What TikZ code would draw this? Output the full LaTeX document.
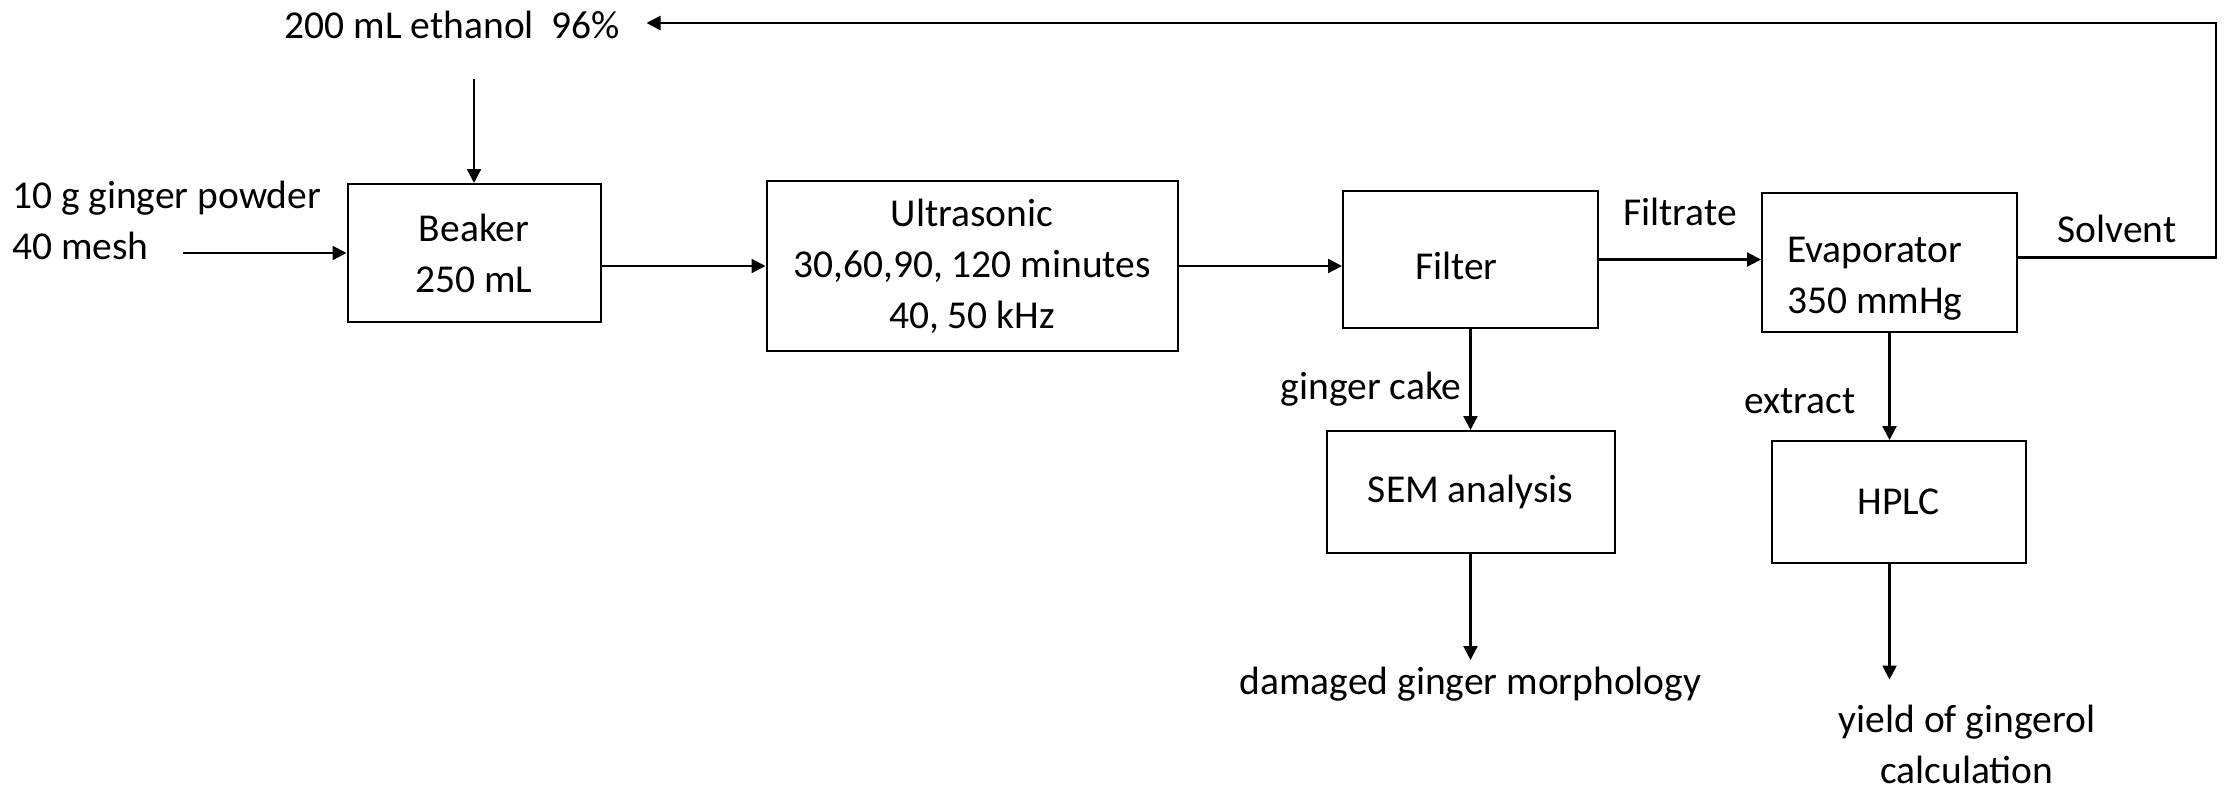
\documentclass[tikz,border=0pt]{standalone}
\usepackage{fontspec}
\setmainfont{Carlito}
\usetikzlibrary{positioning}
\usetikzlibrary{arrows.meta}

\tikzset{
  proc/.style={draw, line width=1pt, align=center, inner sep=0pt},
  txt/.style={align=center},
  lbl/.style={inner sep=2pt},
  flow/.style={line width=1.1pt, -{Triangle[length=7pt,width=7pt]}},
}

\begin{document}
\begin{tikzpicture}[x=0.5pt, y=-0.5pt, font=\fontsize{19.75pt}{25.5pt}\selectfont]
    \useasboundingbox (0,0) rectangle (2226,793);


    % main line of the process
    \node[proc, minimum width=126.5pt, minimum height=69pt] (beaker) at (474,253) {Beaker\\250 mL};
    \node[proc, minimum width=205.5pt, minimum height=85pt] (ultra) at (972,266) {Ultrasonic\\30,60,90, 120 minutes\\40, 50 kHz};
    \node[proc, align=flush left, inner xsep=36pt, text width=55.5pt, text height=44pt, text depth=24.5pt] (filter) at (1470.5,259.5) {Filter};
    \node[proc, align=flush left, inner xsep=12.5pt, text width=102.5pt, text height=34.5pt, text depth=35pt] (evap) at (1889.5,262.5) {Evaporator\\350 mmHg};


    % inputs
    \node[txt, inner xsep=13pt] (ethanol) at (452.5,25) {200 mL ethanol\ \ 96\%};
    \coordinate[above=52pt of beaker.north] (ethanol-in);
    \draw[flow] (ethanol-in) -- (beaker.north);
    \node[txt, align=left, anchor=west] (powder) at (5,220) {10 g ginger powder\\40 mesh};
    \coordinate[left=82pt of beaker.west] (powder-in);
    \draw[flow] (powder-in) -- (beaker.west);


    % connections along the line
    \draw[flow] (beaker.east |- ultra.west) -- (ultra.west);
    \draw[flow] (ultra.east) -- (ultra.east -| filter.west);
    \draw[flow] (filter.east) -- (filter.east -| evap.west)
        node[lbl, midway, above=14.5pt] {Filtrate};

    % solvent back to the ethanol
    \coordinate (loop) at (2216,23);
    \draw[flow] ([yshift=2.5pt]evap.east) -- ([yshift=2.5pt]evap.east -| loop)
        node[lbl, midway, above=5pt] {Solvent}
        -- (loop) -- (loop -| ethanol.east);


    % analysis branches
    % cake
    \node[proc, below=50.5pt of filter, minimum width=144pt, minimum height=61pt] (sem) {SEM analysis};
    \draw[flow] (filter.south) -- (filter.south |- sem.north)
        node[lbl, pos=0.6, left=2pt] {ginger cake};
    \node[txt, below=53pt of sem] (damaged) {damaged ginger morphology};
    \draw[flow] (sem.south) -- (sem.south |- damaged.north);
    % extract
    \node[proc, below=53.5pt of evap, xshift=4.5pt, minimum width=127pt, minimum height=61pt] (hplc) {HPLC};
    \draw[flow] (evap.south) -- (evap.south |- hplc.north)
        node[lbl, pos=0.64, left=14.5pt] {extract};
    \node[txt] (yield) at (1967,744) {yield of gingerol\\calculation};
    \draw[flow, shorten >=9pt] (hplc.south -| evap) -- (evap |- yield.north);

\end{tikzpicture}
\end{document}
